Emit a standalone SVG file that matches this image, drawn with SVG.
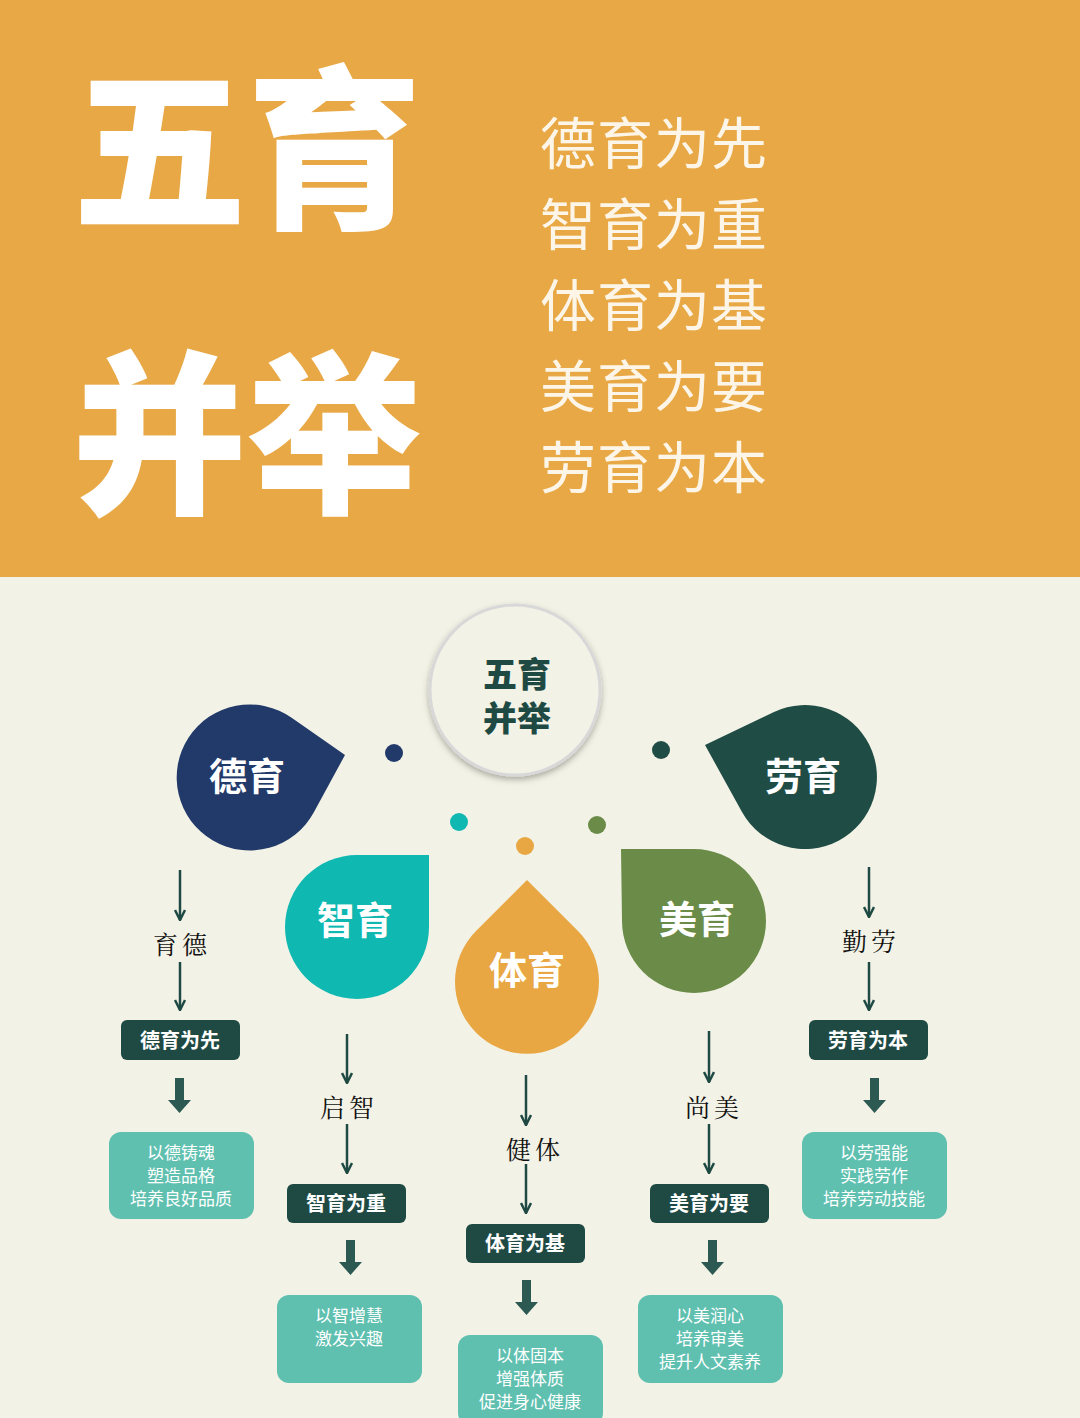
<svg xmlns="http://www.w3.org/2000/svg" width="1080" height="1418" viewBox="0 0 1080 1418">
<defs>
<style>
.cjk{font-family:"Noto Sans CJK SC","Noto Sans",sans-serif}
.big{font-size:175px;font-weight:900;fill:#fff}
.list{font-size:56px;fill:#fdf6e8;font-weight:400;letter-spacing:1px}
.drop{font-size:38px;font-weight:700;fill:#fff;text-anchor:middle}
.lab{font-family:"Noto Serif CJK SC","Noto Sans CJK SC",serif;font-size:25px;fill:#111;text-anchor:middle;letter-spacing:4px}
.db{fill:#1f4a44}
.dbt{font-size:20px;font-weight:700;fill:#fff;text-anchor:middle}
.lb{fill:#5fc0b0}
.lbt{font-size:17px;fill:#fff;text-anchor:middle}
.thin{stroke:#1f4a44;stroke-width:2.5;fill:none;marker-end:url(#ah)}
.thick{fill:#2c5a52}
</style>
<marker id="ah" viewBox="0 0 12 12" refX="11" refY="6" markerWidth="12" markerHeight="12" markerUnits="userSpaceOnUse" orient="auto">
<path d="M1,1 L11,6 L1,11" fill="none" stroke="#1f4a44" stroke-width="2.5"/>
</marker>
<filter id="sh" x="-20%" y="-20%" width="140%" height="140%"><feDropShadow dx="0" dy="3" stdDeviation="3" flood-color="#000" flood-opacity="0.3"/></filter>
</defs>
<rect width="1080" height="577" fill="#e8a845"/>
<rect y="577" width="1080" height="841" fill="#f3f2e6"/>
<g id="title">
<text class="cjk big" x="72" y="215">五育</text>
<text class="cjk big" x="72" y="500">并举</text>
<text class="cjk list" x="540" y="164">德育为先</text>
<text class="cjk list" x="540" y="245">智育为重</text>
<text class="cjk list" x="540" y="326">体育为基</text>
<text class="cjk list" x="540" y="407">美育为要</text>
<text class="cjk list" x="540" y="488">劳育为本</text>
</g>
<g id="center">
<circle cx="515" cy="690" r="85" fill="#f3f2e6" stroke="#d8d8d8" stroke-width="3" filter="url(#sh)"/>
<text class="cjk" x="517" y="687" font-size="34" font-weight="900" fill="#1f4a44" text-anchor="middle">五育</text>
<text class="cjk" x="517" y="731" font-size="34" font-weight="900" fill="#1f4a44" text-anchor="middle">并举</text>
</g>
<g id="dots">
<circle cx="394" cy="753" r="9" fill="#223a6a"/>
<circle cx="661" cy="750" r="9" fill="#1f4d45"/>
<circle cx="459" cy="822" r="9" fill="#0fb8b1"/>
<circle cx="525" cy="846" r="9" fill="#e8a742"/>
<circle cx="597" cy="825" r="9" fill="#6a8c48"/>
</g>
<g id="deyu"><path d="M292,718 L345,755 L314,812 A73 73 0 1 1 292,718 Z" fill="#223a6a"/><text class="cjk drop" x="247" y="790">德育</text></g>
<g id="zhiyu"><path d="M357,855 L429,855 L429,927 A72 72 0 1 1 357,855 Z" fill="#0fb8b1"/><text class="cjk drop" x="355" y="934">智育</text></g>
<g id="tiyu"><path d="M476,931 L527,880 L578,931 A72 72 0 1 1 476,931 Z" fill="#e8a742"/><text class="cjk drop" x="527" y="984">体育</text></g>
<g id="meiyu"><path d="M621,849 L694,849 A72 72 0 1 1 622,921 Z" fill="#6a8c48"/><text class="cjk drop" x="697" y="933">美育</text></g>
<g id="laoyu"><path d="M742,812 L705,745 L774,712 A72 72 0 1 1 742,812 Z" fill="#1f4d45"/><text class="cjk drop" x="803" y="790">劳育</text></g>
<g id="connectors">
<path class="thin" d="M180,870 V920"/><path class="thin" d="M180,962 V1010"/>
<path class="thin" d="M347,1034 V1083"/><path class="thin" d="M347,1124 V1173"/>
<path class="thin" d="M526,1075 V1125"/><path class="thin" d="M526,1164 V1213"/>
<path class="thin" d="M709,1031 V1082"/><path class="thin" d="M709,1124 V1173"/>
<path class="thin" d="M869,867 V917"/><path class="thin" d="M869,962 V1010"/>
<path class="thick" d="M175,1078 h9 v22 h7 l-11.5,13 l-11.5,-13 h7 z"/>
<path class="thick" d="M346,1240 h9 v22 h7 l-11.5,13 l-11.5,-13 h7 z"/>
<path class="thick" d="M522,1280 h9 v22 h7 l-11.5,13 l-11.5,-13 h7 z"/>
<path class="thick" d="M708,1240 h9 v22 h7 l-11.5,13 l-11.5,-13 h7 z"/>
<path class="thick" d="M870,1078 h9 v22 h7 l-11.5,13 l-11.5,-13 h7 z"/>
</g>
<g id="labels">
<text class="lab" x="182" y="954">育德</text>
<text class="lab" x="349" y="1117">启智</text>
<text class="lab" x="535" y="1159">健体</text>
<text class="lab" x="714" y="1117">尚美</text>
<text class="lab" x="871" y="951">勤劳</text>
</g>
<g id="box1"><rect class="db" x="121" y="1020" width="119" height="40" rx="6"/><text class="cjk dbt" x="180" y="1048">德育为先</text></g>
<g id="box2"><rect class="db" x="287" y="1184" width="119" height="39" rx="6"/><text class="cjk dbt" x="346" y="1211">智育为重</text></g>
<g id="box3"><rect class="db" x="466" y="1224" width="119" height="39" rx="6"/><text class="cjk dbt" x="525" y="1251">体育为基</text></g>
<g id="box4"><rect class="db" x="650" y="1184" width="119" height="39" rx="6"/><text class="cjk dbt" x="709" y="1211">美育为要</text></g>
<g id="box5"><rect class="db" x="809" y="1020" width="119" height="40" rx="6"/><text class="cjk dbt" x="868" y="1048">劳育为本</text></g>
<g id="desc1"><rect class="lb" x="109" y="1132" width="145" height="87" rx="12"/><text class="cjk lbt" x="181" y="1159">以德铸魂</text><text class="cjk lbt" x="181" y="1182">塑造品格</text><text class="cjk lbt" x="181" y="1205">培养良好品质</text></g>
<g id="desc2"><rect class="lb" x="277" y="1295" width="145" height="88" rx="12"/><text class="cjk lbt" x="349" y="1322">以智增慧</text><text class="cjk lbt" x="349" y="1345">激发兴趣</text></g>
<g id="desc3"><rect class="lb" x="458" y="1335" width="145" height="90" rx="12"/><text class="cjk lbt" x="530" y="1362">以体固本</text><text class="cjk lbt" x="530" y="1385">增强体质</text><text class="cjk lbt" x="530" y="1408">促进身心健康</text></g>
<g id="desc4"><rect class="lb" x="638" y="1295" width="145" height="88" rx="12"/><text class="cjk lbt" x="710" y="1322">以美润心</text><text class="cjk lbt" x="710" y="1345">培养审美</text><text class="cjk lbt" x="710" y="1368">提升人文素养</text></g>
<g id="desc5"><rect class="lb" x="802" y="1132" width="145" height="87" rx="12"/><text class="cjk lbt" x="874" y="1159">以劳强能</text><text class="cjk lbt" x="874" y="1182">实践劳作</text><text class="cjk lbt" x="874" y="1205">培养劳动技能</text></g>
</svg>
